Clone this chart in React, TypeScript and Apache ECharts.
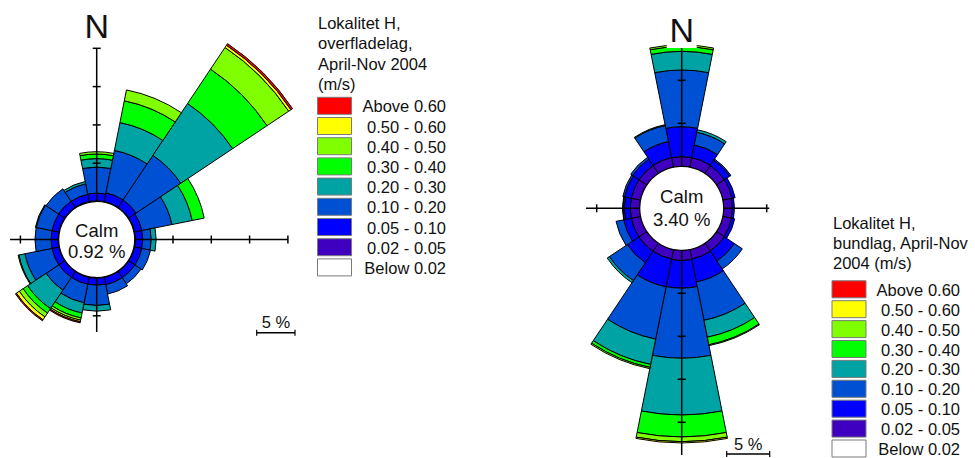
import React, { useEffect, useRef } from "react";
import * as echarts from "echarts";

// ---------- DATA ----------
const directions = ["N", "NNE", "NE", "ENE", "E", "ESE", "SE", "SSE", "S", "SSW", "SW", "WSW", "W", "WNW", "NW", "NNW"];
const speedClasses = ["Below 0.02", "0.02 - 0.05", "0.05 - 0.10", "0.10 - 0.20", "0.20 - 0.30", "0.30 - 0.40", "0.40 - 0.50", "0.50 - 0.60", "Above 0.60"];
const classColors = ["#ffffff", "#3f00bf", "#0000ff", "#0050d4", "#00a3a3", "#00ff00", "#80ff00", "#ffff00", "#ff0000"];

// Lokalitet H, overfladelag (frequency in % per direction and speed class)
const surfBelow002 = [0, 0, 0, 0, 0, 0, 0, 0, 0, 0, 0, 0, 0, 0, 0, 0];
const surf002to005 = [0.1, 0.1, 0.1, 0.1, 0.1, 0.1, 0.1, 0.1, 0.1, 0.1, 0.1, 0.1, 0.1, 0.1, 0.1, 0.1];
const surf005to010 = [1.0, 1.15, 1.15, 0.95, 0.95, 0.95, 0.95, 0.95, 0.9, 0.9, 0.9, 0.9, 0.9, 0.9, 0.95, 0.95];
const surf010to020 = [3.4, 5.65, 7.0, 4.0, 1.1, 1.15, 0.95, 1.25, 2.65, 2.47, 2.0, 3.6, 2.1, 2.1, 1.95, 1.4];
const surf020to030 = [1.1, 3.7, 8.14, 2.7, 0.65, 0, 0, 0, 0.75, 1.36, 2.9, 0.8, 0, 0.1, 0, 0.3];
const surf030to040 = [0.6, 2.9, 5.4, 1.6, 0, 0, 0, 0, 0, 0.65, 0.7, 0.1, 0, 0, 0, 0];
const surf040to050 = [0.3, 1.45, 3.4, 0, 0, 0, 0, 0, 0, 0.3, 0.6, 0, 0, 0, 0, 0];
const surf050to060 = [0, 0, 0.35, 0, 0, 0, 0, 0, 0, 0.2, 0.45, 0, 0, 0, 0, 0];
const surfAbove060 = [0, 0, 0.25, 0, 0, 0, 0, 0, 0, 0.15, 0.15, 0, 0, 0, 0, 0];
const surfCalm = "0.92 %";

// Lokalitet H, bundlag
const botBelow002 = [0, 0, 0, 0, 0, 0, 0, 0, 0, 0, 0, 0, 0, 0, 0, 0];
const bot002to005 = [1.13, 1.13, 1.1, 1.1, 1.0, 1.05, 1.1, 1.13, 1.2, 1.13, 1.13, 1.1, 1.1, 1.1, 1.1, 1.13];
const bot005to010 = [3.47, 1.5, 0.75, 0.35, 0.25, 0.35, 1.4, 2.72, 3.2, 3.3, 1.6, 0.9, 0.7, 0.8, 0.9, 1.9];
const bot010to020 = [6.6, 1.5, 0.15, 0, 0, 0, 1.1, 4.55, 8.15, 6.2, 2.5, 0.9, 0.15, 0.2, 0.25, 1.9];
const bot020to030 = [2.17, 0.3, 0, 0, 0, 0, 0, 2.0, 6.6, 3.0, 0.3, 0, 0.05, 0, 0, 0.1];
const bot030to040 = [0.55, 0, 0, 0, 0, 0, 0, 0.9, 2.55, 0.35, 0, 0, 0, 0, 0, 0];
const bot040to050 = [0.2, 0, 0, 0, 0, 0, 0, 0.1, 0.55, 0.15, 0, 0, 0, 0, 0, 0];
const bot050to060 = [0, 0, 0, 0, 0, 0, 0, 0, 0.15, 0, 0, 0, 0, 0, 0, 0];
const botAbove060 = [0, 0, 0, 0, 0, 0, 0, 0, 0, 0, 0, 0, 0, 0, 0, 0];
const botCalm = "3.40 %";

const scaleTicks = [5, 10, 15, 20];
const scaleBarLabel = "5 %";
const surfTitle = ["Lokalitet H,", "overfladelag,", "April-Nov 2004", "(m/s)"];
const botTitle = ["Lokalitet H,", "bundlag, April-Nov", "2004 (m/s)"];

// ---------- LAYOUT ----------
const FONT = '"Liberation Sans", Arial, Helvetica, sans-serif';

type Rose = {
  cx: number; cy: number; r0: number; k: number; max: number;
  ext: { left: number; right: number; up: number; down: number };
  ticks: { left: number[]; right: number[]; up: number[]; down: number[] };
  nY: number; nBox: boolean;
  calm: string; calmDy: [number, number];
  bar: { x: number; y: number; textY: number };
  legend: { boxX: number; rowY0: number; rowGap: number; textRight: number; titleX: number; titleY0: number; titleGap: number; title: string[] };
  series: number[][];
};

const roses: Rose[] = [
  {
    cx: 96.7, cy: 239.5, r0: 38, k: 7.66, max: 26,
    ext: { left: 6.35, right: 20, up: 20, down: 7.1 },
    ticks: { left: [5], right: scaleTicks, up: scaleTicks, down: [5] },
    nY: 26, nBox: false,
    calm: surfCalm, calmDy: [-9.5, 12],
    bar: { x: 256.7, y: 332.7, textY: 322 },
    legend: { boxX: 317.5, rowY0: 105.8, rowGap: 20.2, textRight: 446, titleX: 318, titleY0: 23, titleGap: 20.3, title: surfTitle },
    series: [surfBelow002, surf002to005, surf005to010, surf010to020, surf020to030, surf030to040, surf040to050, surf050to060, surfAbove060],
  },
  {
    cx: 681.7, cy: 208.3, r0: 42, k: 8.6, max: 23,
    ext: { left: 6.25, right: 5.3, up: 14.7, down: 23.8 },
    ticks: { left: [5], right: [5], up: [5, 10], down: scaleTicks },
    nY: 30, nBox: true,
    calm: botCalm, calmDy: [-11.5, 10.8],
    bar: { x: 726.7, y: 454, textY: 443.5 },
    legend: { boxX: 832, rowY0: 289.3, rowGap: 19.9, textRight: 960, titleX: 833, titleY0: 223, titleGap: 20, title: botTitle },
    series: [botBelow002, bot002to005, bot005to010, bot010to020, bot020to030, bot030to040, bot040to050, bot050to060, botAbove060],
  },
];

function text(x: number, y: number, s: string, size: number, align: string, z = 120): any {
  return {
    type: "text", x, y, z, silent: true,
    style: {
      text: s, fill: "#111", fontSize: size, fontFamily: FONT,
      textAlign: align, align, textVerticalAlign: "middle", verticalAlign: "middle",
    },
  };
}
function line(x1: number, y1: number, x2: number, y2: number, w = 1.5, z = 100): any {
  return { type: "line", z, silent: true, shape: { x1, y1, x2, y2 }, style: { stroke: "#000", lineWidth: w } };
}

function buildOption(): any {
  const polar: any[] = [];
  const angleAxis: any[] = [];
  const radiusAxis: any[] = [];
  const series: any[] = [];
  const graphic: any[] = [];

  roses.forEach((r, p) => {
    polar.push({ center: [r.cx, r.cy], radius: [r.r0, r.r0 + r.max * r.k] });
    angleAxis.push({
      polarIndex: p, type: "category", data: directions, startAngle: 90 + 360 / directions.length / 2,
      clockwise: true, boundaryGap: true,
      axisLine: { show: false }, axisTick: { show: false }, axisLabel: { show: false }, splitLine: { show: false },
    });
    radiusAxis.push({
      polarIndex: p, type: "value", min: 0, max: r.max,
      axisLine: { show: false }, axisTick: { show: false }, axisLabel: { show: false }, splitLine: { show: false },
    });
    r.series.forEach((vals, c) => {
      series.push({
        type: "bar", name: speedClasses[c], coordinateSystem: "polar", polarIndex: p, stack: "rose" + p,
        barCategoryGap: "0%", silent: true,
        itemStyle: { color: classColors[c], borderColor: "#000", borderWidth: 1 },
        data: vals.map((v) => (v > 0 ? v : "-")),
      });
    });

    const rad = (t: number) => r.r0 + t * r.k;
    // cross-hair axes
    graphic.push(line(r.cx - rad(r.ext.left), r.cy, r.cx + rad(r.ext.right), r.cy));
    graphic.push(line(r.cx, r.cy - rad(r.ext.up), r.cx, r.cy + rad(r.ext.down)));
    const tl = 4;
    r.ticks.right.forEach((t) => graphic.push(line(r.cx + rad(t), r.cy - tl, r.cx + rad(t), r.cy + tl)));
    r.ticks.left.forEach((t) => graphic.push(line(r.cx - rad(t), r.cy - tl, r.cx - rad(t), r.cy + tl)));
    r.ticks.up.forEach((t) => graphic.push(line(r.cx - tl, r.cy - rad(t), r.cx + tl, r.cy - rad(t))));
    r.ticks.down.forEach((t) => graphic.push(line(r.cx - tl, r.cy + rad(t), r.cx + tl, r.cy + rad(t))));
    // calm circle
    graphic.push({ type: "circle", z: 110, silent: true, shape: { cx: r.cx, cy: r.cy, r: r.r0 }, style: { fill: "#fff", stroke: "#000", lineWidth: 1.2 } });
    graphic.push(text(r.cx, r.cy + r.calmDy[0], "Calm", 18.5, "center"));
    graphic.push(text(r.cx, r.cy + r.calmDy[1], r.calm, 18.5, "center"));
    // North label
    if (r.nBox) {
      graphic.push({ type: "rect", z: 115, silent: true, shape: { x: r.cx - 15, y: r.nY - 17, width: 30, height: 35 }, style: { fill: "#fff" } });
    }
    graphic.push(text(r.cx, r.nY, "N", 34, "center"));
    // scale bar (one 5 % step)
    const bw = 5 * r.k;
    graphic.push(line(r.bar.x, r.bar.y, r.bar.x + bw, r.bar.y, 1.5));
    graphic.push(line(r.bar.x, r.bar.y - 3, r.bar.x, r.bar.y + 3, 1.2));
    graphic.push(line(r.bar.x + bw, r.bar.y - 3, r.bar.x + bw, r.bar.y + 3, 1.2));
    graphic.push(text(r.bar.x + bw / 2, r.bar.textY, scaleBarLabel, 16.5, "center"));
    // legend
    const L = r.legend;
    L.title.forEach((s, i) => graphic.push(text(L.titleX, L.titleY0 + i * L.titleGap, s, 16.5, "left")));
    for (let i = 0; i < speedClasses.length; i++) {
      const c = speedClasses.length - 1 - i;
      const yc = L.rowY0 + i * L.rowGap;
      graphic.push({
        type: "rect", z: 100, silent: true,
        shape: { x: L.boxX, y: yc - 8.5, width: 34, height: 17 },
        style: { fill: classColors[c], stroke: "#7a7a7a", lineWidth: 1 },
      });
      graphic.push(text(L.textRight, yc + 0.5, speedClasses[c], 16.5, "right"));
    }
  });

  return {
    animation: false,
    backgroundColor: "#ffffff",
    polar, angleAxis, radiusAxis, series,
    tooltip: { show: false },
    graphic: { elements: graphic },
  };
}

export default function App() {
  const ref = useRef<HTMLDivElement>(null);
  useEffect(() => {
    if (!ref.current) return;
    const chart = echarts.init(ref.current, undefined, { renderer: "svg" });
    chart.setOption(buildOption());
    return () => chart.dispose();
  }, []);
  return (
    <div
      ref={ref}
      style={{ position: "absolute", left: 0, top: 0, width: 975, height: 458, background: "#fff" }}
    />
  );
}
